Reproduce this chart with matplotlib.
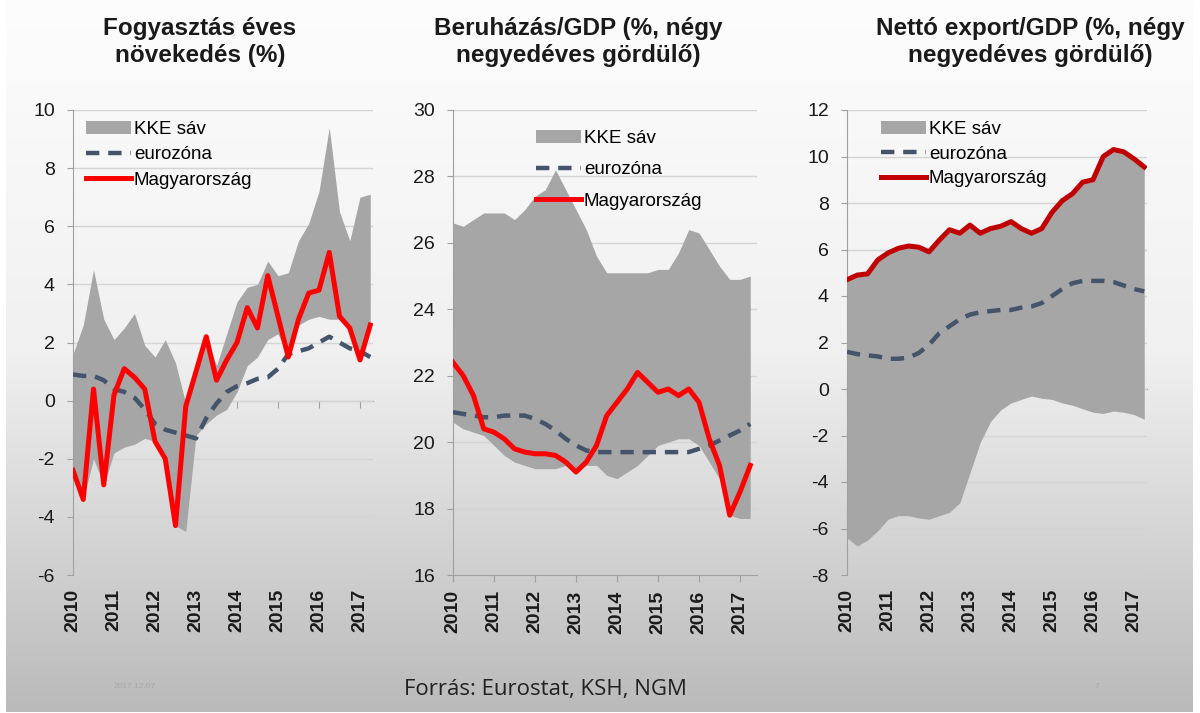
import numpy as np
import matplotlib
matplotlib.use("Agg")
import matplotlib.pyplot as plt
from matplotlib.patches import Patch
from matplotlib.lines import Line2D

plt.rcParams['font.family'] = ['Liberation Sans', 'DejaVu Sans']
plt.rcParams['axes.unicode_minus'] = False

# quarterly data, 2010Q1 .. 2017Q2
years = ['2010', '2011', '2012', '2013', '2014', '2015', '2016', '2017']

# panel 1: consumption growth (%)
cons_hu = [-2.4, -3.4, 0.4, -2.9, 0.2, 1.1, 0.8, 0.4, -1.4, -2.0,
           -4.3, -0.2, 1.0, 2.2, 0.7, 1.4, 2.0, 3.2, 2.5, 4.3,
           2.9, 1.5, 2.8, 3.7, 3.8, 5.1, 2.9, 2.5, 1.4, 2.6]
cons_ez = [0.9, 0.85, 0.85, 0.7, 0.4, 0.3, 0.1, -0.3, -0.8, -1.0,
           -1.1, -1.2, -1.3, -0.6, -0.1, 0.3, 0.5, 0.6, 0.75, 0.8,
           1.1, 1.6, 1.7, 1.8, 2.0, 2.2, 2.0, 1.8, 1.7, 1.5]
cons_hi = [1.6, 2.6, 4.5, 2.8, 2.1, 2.5, 3.0, 1.9, 1.5, 2.1,
           1.3, -0.1, 1.0, 2.2, 1.2, 2.3, 3.4, 3.9, 4.0, 4.8,
           4.3, 4.4, 5.5, 6.1, 7.2, 9.4, 6.5, 5.5, 7.0, 7.1]
cons_lo = [-2.4, -3.4, -2.0, -2.9, -1.8, -1.6, -1.5, -1.3, -1.4, -2.0,
           -4.3, -4.5, -1.2, -0.8, -0.5, -0.3, 0.3, 1.2, 1.5, 2.1,
           2.3, 1.5, 2.6, 2.8, 2.9, 2.8, 2.8, 2.4, 1.4, 2.6]

# panel 2: investment / GDP
inv_hu = [22.4, 22.0, 21.4, 20.4, 20.3, 20.1, 19.8, 19.7, 19.65, 19.65,
          19.6, 19.4, 19.1, 19.4, 19.9, 20.8, 21.2, 21.6, 22.1, 21.8,
          21.5, 21.6, 21.4, 21.6, 21.2, 20.1, 19.3, 17.8, 18.5, 19.3]
inv_ez = [20.9, 20.85, 20.8, 20.75, 20.75, 20.8, 20.8, 20.8, 20.7, 20.55,
          20.35, 20.1, 19.9, 19.75, 19.7, 19.7, 19.7, 19.7, 19.7, 19.7,
          19.7, 19.7, 19.7, 19.7, 19.8, 19.9, 20.05, 20.2, 20.35, 20.55]
inv_hi = [26.6, 26.5, 26.7, 26.9, 26.9, 26.9, 26.7, 27.0, 27.4, 27.6,
          28.2, 27.6, 27.0, 26.4, 25.6, 25.1, 25.1, 25.1, 25.1, 25.1,
          25.2, 25.2, 25.7, 26.4, 26.3, 25.8, 25.3, 24.9, 24.9, 25.0]
inv_lo = [20.6, 20.4, 20.3, 20.2, 19.9, 19.6, 19.4, 19.3, 19.2, 19.2,
          19.2, 19.3, 19.1, 19.3, 19.3, 19.0, 18.9, 19.1, 19.3, 19.6,
          19.9, 20.0, 20.1, 20.1, 19.9, 19.4, 18.9, 17.8, 17.7, 17.7]

# panel 3: net export / GDP
nx_hu = [4.7, 4.9, 4.95, 5.55, 5.85, 6.05, 6.15, 6.1, 5.9, 6.4,
         6.85, 6.7, 7.05, 6.7, 6.9, 7.0, 7.2, 6.9, 6.7, 6.9,
         7.6, 8.1, 8.4, 8.9, 9.0, 10.0, 10.3, 10.2, 9.9, 9.55]
nx_ez = [1.6, 1.5, 1.45, 1.4, 1.3, 1.3, 1.35, 1.55, 1.9, 2.4,
         2.7, 3.0, 3.2, 3.3, 3.35, 3.4, 3.4, 3.5, 3.55, 3.7,
         4.0, 4.3, 4.55, 4.65, 4.65, 4.65, 4.6, 4.45, 4.3, 4.2]
nx_hi = nx_hu
nx_lo = [-6.4, -6.75, -6.5, -6.1, -5.6, -5.45, -5.45, -5.55, -5.6, -5.45,
         -5.3, -4.9, -3.6, -2.3, -1.4, -0.9, -0.6, -0.45, -0.3, -0.4,
         -0.45, -0.6, -0.7, -0.85, -1.0, -1.05, -0.95, -1.0, -1.1, -1.3]

titles = ['Fogyasztás éves\nnövekedés (%)',
          'Beruházás/GDP (%, négy\nnegyedéves gördülő)',
          'Nettó export/GDP (%, négy\nnegyedéves gördülő)']

BAND = '#a6a6a6'
EZ = '#44546a'

fig = plt.figure(figsize=(12, 7.13), dpi=100)
fig.patch.set_facecolor('white')

# slide background gradient
bg = fig.add_axes([0.005, 0.002, 0.989, 0.998], zorder=-10)
grad = np.linspace(0, 1, 256)[:, None]
bg.imshow(grad, aspect='auto', cmap=matplotlib.colors.LinearSegmentedColormap.from_list(
    'g', ['#fdfdfd', '#f0f0f0', '#bababa']), extent=[0, 1, 0, 1])
bg.axis('off')

panels = [
    dict(rect=[73, 373], ylim=(-6, 10), hu=cons_hu, ez=cons_ez, hi=cons_hi, lo=cons_lo,
         red='#ff0000', zero=0, leg=(0.0, 1.005), lsp=0.45, tcx=200),
    dict(rect=[453, 757], ylim=(16, 30), hu=inv_hu, ez=inv_ez, hi=inv_hi, lo=inv_lo,
         red='#ff0000', zero=None, leg=(0.23, 0.985), lsp=0.75, tcx=578),
    dict(rect=[847, 1147], ylim=(-8, 12), hu=nx_hu, ez=nx_ez, hi=nx_hi, lo=nx_lo,
         red='#c00000', zero=0, leg=(0.07, 1.005), lsp=0.4, tcx=1030),
]

for k, p in enumerate(panels):
    x0, x1 = p['rect']
    ax = fig.add_axes([x0 / 1200, (713 - 575) / 713, (x1 - x0) / 1200, 465 / 713])
    ax.patch.set_alpha(0)
    x = np.arange(len(p['hu']))
    ax.fill_between(x, p['lo'], p['hi'], color=BAND, lw=0, zorder=2)
    ax.plot(x, p['ez'], color=EZ, lw=3.2, dashes=(3, 2), zorder=3)
    ax.plot(x, p['hu'], color=p['red'], lw=3.6, zorder=4, solid_joinstyle='round')

    lo, hi = p['ylim']
    ax.set_ylim(lo, hi)
    ax.set_xlim(0, (x1 - x0) / 10.25)
    ax.set_yticks(np.arange(lo, hi + 0.1, 2))
    ax.grid(axis='y', color='#d4d4d4', lw=1, zorder=0)
    for s in ['top', 'right']:
        ax.spines[s].set_visible(False)
    ax.spines['left'].set_color('#a0a0a0')
    ax.tick_params(axis='y', length=4, color='#a0a0a0', labelsize=14, pad=9, labelcolor='#1a1a1a')

    ax.set_xticks(np.arange(0, len(x), 4))
    ax.set_xticklabels(years, rotation=90, fontsize=14, fontweight='bold', color='#1a1a1a')
    if p['zero'] is not None:
        ax.spines['bottom'].set_visible(False)
        ax.tick_params(axis='x', length=0, pad=10)
        sec = ax.secondary_xaxis((p['zero'] - lo) / (hi - lo))
        sec.set_xticks(np.arange(0, len(x), 4))
        sec.set_xticklabels([])
        sec.tick_params(length=5, color='#a0a0a0')
        sec.spines['bottom'].set_color('#a0a0a0')
        sec.set_zorder(1)
    else:
        ax.spines['bottom'].set_color('#a0a0a0')
        ax.tick_params(axis='x', length=5, color='#a0a0a0', pad=6)

    handles = [Patch(color=BAND, lw=0),
               Line2D([], [], color=EZ, lw=3.2, dashes=(3, 2)),
               Line2D([], [], color=p['red'], lw=3.6)]
    ax.legend(handles, ['KKE sáv', 'eurozóna', 'Magyarország'], loc='upper left',
              bbox_to_anchor=p['leg'], frameon=False, fontsize=13.5, handlelength=2.4,
              handletextpad=0.15, labelspacing=p['lsp'], borderaxespad=0.3)

    fig.text(p['tcx'] / 1200, 1 - 42 / 713, titles[k], ha='center', va='center', fontsize=17.5,
             fontweight='bold', color='#1a1a1a', linespacing=1.25)

fig.text(545 / 1200, 1 - 690 / 713, 'Forrás: Eurostat, KSH, NGM', ha='center', va='center',
         fontsize=16, family='Open Sans', color='#222222')
fig.text(135 / 1200, 1 - 686 / 713, '2017.12.07', ha='center', va='center',
         fontsize=6, color='#a6a6a6')
fig.text(1097 / 1200, 1 - 686 / 713, '7', ha='center', va='center', fontsize=6, color='#a6a6a6')

fig.savefig('out.png', dpi=100)
